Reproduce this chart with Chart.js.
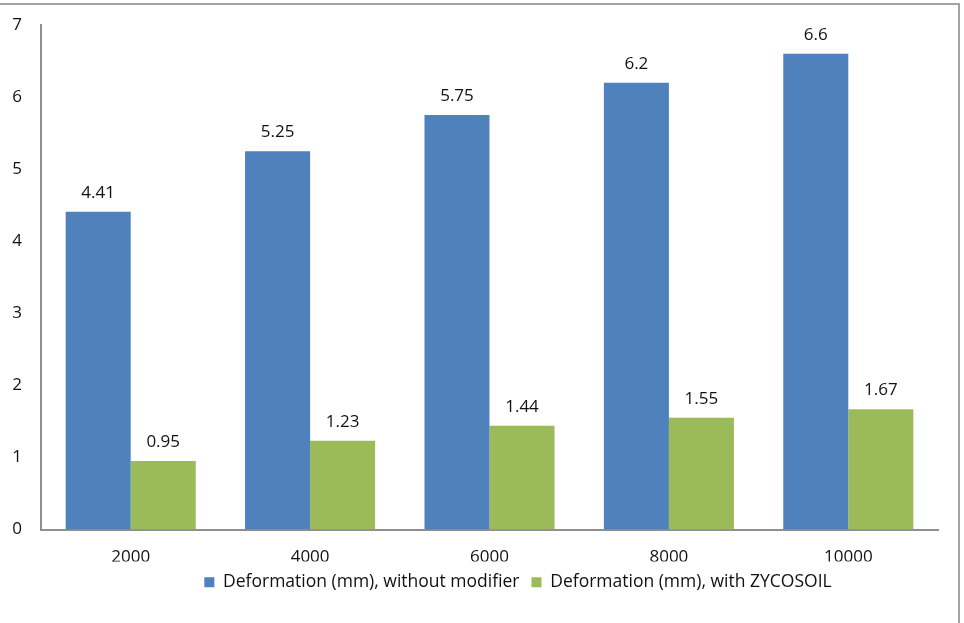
<!DOCTYPE html>
<html>
<head>
<meta charset="utf-8">
<script src="https://cdn.jsdelivr.net/npm/chart.js@4"></script>
<style>
html,body{margin:0;padding:0;background:#fff;overflow:hidden;}
#wrap{position:absolute;left:0;top:0;width:964px;height:623px;}
#frame{position:absolute;left:-10px;top:3px;width:970px;height:700px;border-top:2px solid #a3a3a3;border-right:2px solid #a3a3a3;box-sizing:border-box;pointer-events:none;}
</style>
</head>
<body>
<div id="wrap"><canvas id="c" width="964" height="623"></canvas><div id="frame"></div></div>
<script>
const categories = ["2000", "4000", "6000", "8000", "10000"];
const seriesNames = ["Deformation (mm), without modifier", "Deformation (mm), with ZYCOSOIL"];
const withoutModifier = [4.41, 5.25, 5.75, 6.2, 6.6];
const withZycosoil = [0.95, 1.23, 1.44, 1.55, 1.67];
const yTicks = [0, 1, 2, 3, 4, 5, 6, 7];

const FONT = "'Open Sans', 'Liberation Sans', sans-serif";
const TEXT = "#111111";

const labelPlugin = {
  id: 'valueLabels',
  afterDatasetsDraw(chart) {
    const ctx = chart.ctx;
    ctx.save();
    ctx.font = "17px " + FONT;
    ctx.fillStyle = TEXT;
    ctx.textAlign = 'center';
    ctx.textBaseline = 'middle';
    chart.data.datasets.forEach((ds, i) => {
      chart.getDatasetMeta(i).data.forEach((bar, j) => {
        ctx.fillText(String(ds.data[j]), bar.x, bar.y - 19);
      });
    });
    ctx.restore();
  }
};

const legendShift = {
  id: 'legendShift',
  afterLayout(chart) {
    const lg = chart.legend;
    if (!lg) return;
    const targetCenter = 518;
    const cur = (lg.left + lg.right) / 2;
    const d = targetCenter - cur;
    lg.left += d; lg.right += d;
  }
};

new Chart(document.getElementById('c'), {
  type: 'bar',
  data: {
    labels: categories,
    datasets: [
      { label: seriesNames[0], data: withoutModifier, backgroundColor: '#4f81bd', borderWidth: 0 },
      { label: seriesNames[1], data: withZycosoil, backgroundColor: '#9bbb59', borderWidth: 0 }
    ]
  },
  options: {
    responsive: false,
    animation: false,
    devicePixelRatio: 1,
    layout: { padding: { left: 0, right: 26, top: 25, bottom: 22 } },
    datasets: { bar: { categoryPercentage: 0.725, barPercentage: 1.0 } },
    plugins: {
      legend: {
        position: 'bottom',
        labels: {
          boxWidth: 10, boxHeight: 10, padding: 12,
          color: TEXT,
          font: { family: FONT, size: 17.5 }
        }
      },
      tooltip: { enabled: false }
    },
    scales: {
      x: {
        clip: false,
        grid: { display: false, drawTicks: false },
        border: { display: true, color: '#8f8f8f', width: 2 },
        ticks: { color: TEXT, font: { family: FONT, size: 17 }, padding: 17 },
        afterFit(s) { s.height = 32; }
      },
      y: {
        min: 0, max: 7,
        clip: false,
        afterBuildTicks(s) { s.ticks = yTicks.map(v => ({ value: v })); },
        grid: { display: false, drawTicks: false },
        border: { display: true, color: '#8f8f8f', width: 2 },
        ticks: { color: TEXT, font: { family: FONT, size: 17 }, padding: 19 },
        afterFit(s) { s.width = 41; s.paddingTop = 0; s.paddingBottom = 0; }
      }
    }
  },
  plugins: [labelPlugin, legendShift]
});
</script>
</body>
</html>
